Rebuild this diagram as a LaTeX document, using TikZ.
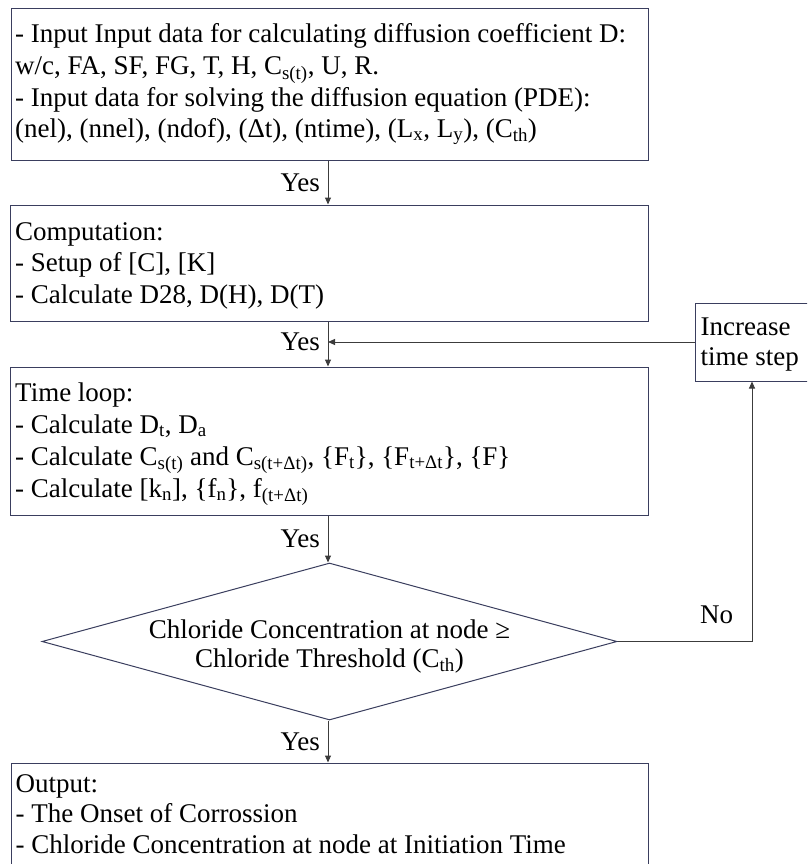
\documentclass[tikz,border=0pt]{standalone}
\usepackage{fontspec}
\setmainfont{Liberation Serif}
\usetikzlibrary{shapes.geometric,arrows.meta}
\definecolor{bordc}{HTML}{3A3E5E}
\definecolor{linec}{HTML}{3C3C3C}
\tikzset{
  boxst/.style={draw=bordc,line width=1pt,rectangle,inner sep=0pt,fill=white},
  diast/.style={draw=bordc,line width=1pt,diamond,inner sep=0pt,fill=white},
  txt/.style={anchor=base west,inner sep=0pt,font=\fontsize{27}{31}\selectfont},
  ctxt/.style={anchor=base,inner sep=0pt,font=\fontsize{27}{31}\selectfont},
  ytxt/.style={anchor=base east,inner sep=0pt,font=\fontsize{27}{31}\selectfont},
  conn/.style={draw=linec,line width=1pt,-{Triangle[length=7pt,width=6pt]}},
  plain/.style={draw=linec,line width=1pt}
}
\begin{document}
\begin{tikzpicture}[x=1pt,y=-1pt]
\useasboundingbox (0,0) rectangle (807,864);
\clip (0,0) rectangle (807,864);
% boxes
\node[boxst,minimum width=637pt,minimum height=151pt] (b1) at (329.5,84.5) {};
\node[boxst,minimum width=638pt,minimum height=116pt] (b2) at (329,263) {};
\node[boxst,minimum width=638pt,minimum height=148pt] (b3) at (329,441) {};
\node[diast,minimum width=575pt,minimum height=157pt] (dia) at (329.5,641.5) {};
\node[boxst,minimum width=637pt,minimum height=130pt] (out) at (329.5,828) {};
\node[boxst,minimum width=120pt,minimum height=78pt] (inc) at (755,342) {};
% box 1 text
\node[txt] (t1a) at (15,43) {- Input Input data for calculating diffusion coefficient D:};
\node[txt] (t1b) at (15,74.5) {w/c, FA, SF, FG, T, H, C\textsubscript{s(t)}, U, R.};
\node[txt] (t1c) at (15,106.5) {- Input data for solving the diffusion equation (PDE):};
\node[txt] (t1d) at (15,137) {(nel), (nnel), (ndof), (Δt), (ntime), (L\textsubscript{x}, L\textsubscript{y}), (C\textsubscript{th})};
% box 2 text
\node[txt] (t2a) at (15,240) {Computation:};
\node[txt] (t2b) at (15,271.5) {- Setup of [C], [K]};
\node[txt] (t2c) at (15,303) {- Calculate D28, D(H), D(T)};
% box 3 text
\node[txt] (t3a) at (15,401.5) {Time loop:};
\node[txt] (t3b) at (15,433) {- Calculate D\textsubscript{t}, D\textsubscript{a}};
\node[txt] (t3c) at (15,465) {- Calculate C\textsubscript{s(t)} and C\textsubscript{s(t+Δt)}, \{F\textsubscript{t}\}, \{F\textsubscript{t+Δt}\}, \{F\}};
\node[txt] (t3d) at (15,497) {- Calculate [k\textsubscript{n}], \{f\textsubscript{n}\}, f\textsubscript{(t+Δt)}};
% diamond text
\node[ctxt] (tda) at (329.5,638) {Chloride Concentration at node ≥};
\node[ctxt] (tdb) at (329.5,667) {Chloride Threshold (C\textsubscript{th})};
% output text
\node[txt] (toa) at (15.5,792.5) {Output:};
\node[txt] (tob) at (15.5,822.5) {- The Onset of Corrossion};
\node[txt] (toc) at (15.5,853) {- Chloride Concentration at node at Initiation Time};
% increase text
\node[txt] (tia) at (700.5,335) {Increase};
\node[txt] (tib) at (700.5,365) {time step};
% labels
\node[ytxt] (y1) at (320,191) {Yes};
\node[ytxt] (y2) at (320,350) {Yes};
\node[ytxt] (y3) at (320,547) {Yes};
\node[ytxt] (y4) at (320,750) {Yes};
\node[txt] (no) at (700,623) {No};
% connectors
\draw[conn] (b1.south -| 328,0) -- (b2.north -| 328,0);
\draw[conn] (b2.south -| 328,0) -- (b3.north -| 328,0);
\draw[conn] (b3.south -| 328,0) -- (dia.north -| 328,0);
\draw[conn] (dia.south -| 328,0) -- (out.north -| 328,0);
\draw[conn] (dia.east) -| (inc.south -| 752,0);
\draw[conn] (inc.west) -- (inc.west -| 328,0);
\end{tikzpicture}
\end{document}
